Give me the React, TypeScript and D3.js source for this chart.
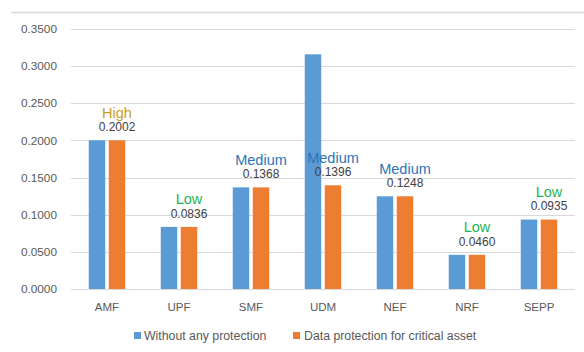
import React from "react";
import * as d3 from "d3";

const categories = ["AMF", "UPF", "SMF", "UDM", "NEF", "NRF", "SEPP"];
const withoutProtection = [0.2002, 0.0836, 0.1368, 0.3159, 0.1248, 0.046, 0.0935];
const withProtection = [0.2002, 0.0836, 0.1368, 0.1396, 0.1248, 0.046, 0.0935];
const riskLevels = ["High", "Low", "Medium", "Medium", "Medium", "Low", "Low"];
const yTicks = [0, 0.05, 0.1, 0.15, 0.2, 0.25, 0.3, 0.35];
const seriesNames = ["Without any protection", "Data protection for critical asset"];

const W = 584;
const H = 352;
const BLUE = "#5B9BD5";
const ORANGE = "#ED7D31";
const riskColor: Record<string, string> = {
  High: "#C99C1C",
  Medium: "#2E75B6",
  Low: "#1DB454",
};
const FONT = "'Liberation Sans', Arial, sans-serif";

export default function App() {
  const x0 = d3.scaleBand<string>().domain(categories).range([71, 575]).paddingInner(0).paddingOuter(0);
  const y = d3.scaleLinear().domain([0, 0.35]).range([289, 29]);
  const barW = 16.5;
  const gap = 3.5;

  return (
    <svg width={W} height={H} style={{ position: "absolute", left: 0, top: 0, background: "#fff" }}>
      <line x1={11} x2={584} y1={12.5} y2={12.5} stroke="#d9d9d9" strokeWidth={1.5} />
      {yTicks.map((t) => (
        <g key={t}>
          <line x1={71} x2={575} y1={Math.round(y(t)) + 0.5} y2={Math.round(y(t)) + 0.5} stroke="#d9d9d9" strokeWidth={1} />
          <text x={57} y={y(t)} dy="0.35em" textAnchor="end" fontFamily={FONT} fontSize={11.8} fill="#595959">
            {t.toFixed(4)}
          </text>
        </g>
      ))}
      {categories.map((c, i) => {
        const cx = (x0(c) as number) + x0.bandwidth() / 2;
        const bx = cx - gap / 2 - barW;
        const ox = cx + gap / 2;
        const topO = y(withProtection[i]);
        return (
          <g key={c}>
            <rect x={bx} y={y(withoutProtection[i])} width={barW} height={289 - y(withoutProtection[i])} fill={BLUE} />
            <rect x={ox} y={topO} width={barW} height={289 - topO} fill={ORANGE} />
            <text x={ox + barW / 2} y={topO - 13.5} dy="0.35em" textAnchor="middle" fontFamily={FONT} fontSize={12} fill="#404040">
              {withProtection[i].toFixed(4)}
            </text>
            <text x={ox + barW / 2} y={topO - 27.5} dy="0.35em" textAnchor="middle" fontFamily={FONT} fontSize={14.5} fill={riskColor[riskLevels[i]]}>
              {riskLevels[i]}
            </text>
            <text x={cx} y={306.5} dy="0.35em" textAnchor="middle" fontFamily={FONT} fontSize={11.5} fill="#595959">
              {c}
            </text>
          </g>
        );
      })}
      <g>
        <rect x={134} y={332} width={7} height={7} fill={BLUE} />
        <text x={144} y={336} dy="0.35em" fontFamily={FONT} fontSize={12.3} fill="#595959">
          {seriesNames[0]}
        </text>
        <rect x={293} y={332} width={7} height={7} fill={ORANGE} />
        <text x={304} y={336} dy="0.35em" fontFamily={FONT} fontSize={12.3} fill="#595959">
          {seriesNames[1]}
        </text>
      </g>
    </svg>
  );
}
